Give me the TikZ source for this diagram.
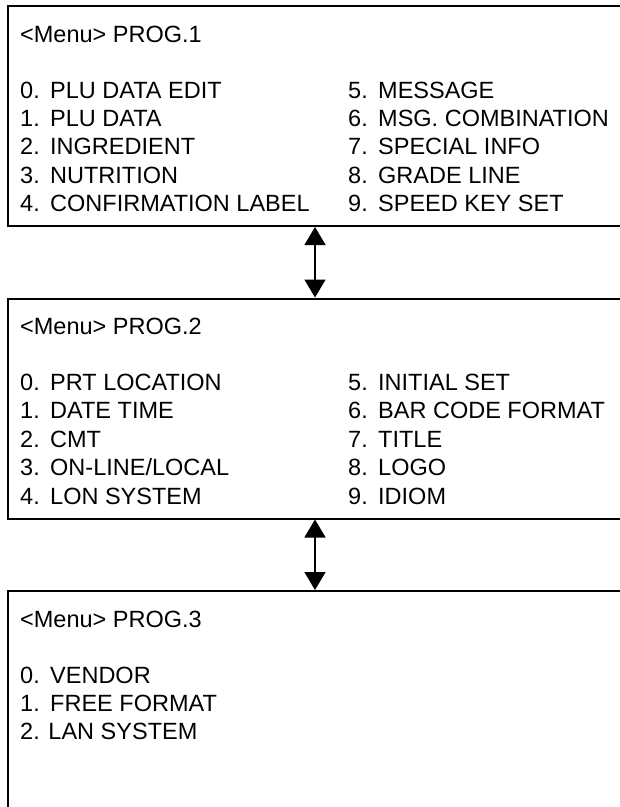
\documentclass[tikz,border=0pt]{standalone}
\usepackage{fontspec}
\setmainfont{Liberation Sans}
\usetikzlibrary{arrows.meta}
\newcommand\itm[2]{\makebox[30pt][l]{#1}#2}
\begin{document}
\begin{tikzpicture}[x=1pt,y=-1pt,
  menubox/.style={draw=black,line width=2pt,rectangle,minimum width=660pt,minimum height=220pt,anchor=north west,inner sep=0pt},
  txt/.style={anchor=base west,inner sep=0pt,font=\fontsize{23.5pt}{28pt}\selectfont},
  link/.style={line width=1.6pt,{Triangle[width=21pt,length=18pt]}-{Triangle[width=21pt,length=18pt]}}]
\useasboundingbox (0,0) rectangle (620,807);
\clip (0,0) rectangle (620,807);
\coordinate (ax) at (315,0);
% box 1
\node[menubox] (b1) at (6.5,5) {};
\node[txt] (t1) at (20,42) {<Menu> PROG.1};
\node[txt] (a10) at (20,98) {\itm{0.}{PLU DATA EDIT}};
\node[txt] (a11) at (20,126.4) {\itm{1.}{PLU DATA}};
\node[txt] (a12) at (20,154.8) {\itm{2.}{INGREDIENT}};
\node[txt] (a13) at (20,183.2) {\itm{3.}{NUTRITION}};
\node[txt] (a14) at (20,211.6) {\itm{4.}{CONFIRMATION LABEL}};
\node[txt] (a15) at (348,98) {\itm{5.}{MESSAGE}};
\node[txt] (a16) at (348,126.4) {\itm{6.}{MSG. COMBINATION}};
\node[txt] (a17) at (348,154.8) {\itm{7.}{SPECIAL INFO}};
\node[txt] (a18) at (348,183.2) {\itm{8.}{GRADE LINE}};
\node[txt] (a19) at (348,211.6) {\itm{9.}{SPEED KEY SET}};
% box 2
\begin{scope}[shift={(0,292.5)}]
\node[menubox] (b2) at (6.5,5) {};
\node[txt] (t2) at (20,42) {<Menu> PROG.2};
\node[txt] (a20) at (20,98) {\itm{0.}{PRT LOCATION}};
\node[txt] (a21) at (20,126.4) {\itm{1.}{DATE TIME}};
\node[txt] (a22) at (20,154.8) {\itm{2.}{CMT}};
\node[txt] (a23) at (20,183.2) {\itm{3.}{ON-LINE/LOCAL}};
\node[txt] (a24) at (20,211.6) {\itm{4.}{LON SYSTEM}};
\node[txt] (a25) at (348,98) {\itm{5.}{INITIAL SET}};
\node[txt] (a26) at (348,126.4) {\itm{6.}{BAR CODE FORMAT}};
\node[txt] (a27) at (348,154.8) {\itm{7.}{TITLE}};
\node[txt] (a28) at (348,183.2) {\itm{8.}{LOGO}};
\node[txt] (a29) at (348,211.6) {\itm{9.}{IDIOM}};
\end{scope}
% box 3
\begin{scope}[shift={(0,585)}]
\node[menubox,minimum height=260pt] (b3) at (6.5,5) {};
\node[txt] (t3) at (20,42) {<Menu> PROG.3};
\node[txt] (a30) at (20,98) {\itm{0.}{VENDOR}};
\node[txt] (a31) at (20,126.4) {\itm{1.}{FREE FORMAT}};
\node[txt] (a32) at (20,154.8) {2. LAN SYSTEM};
\end{scope}
% connectors
\draw[link] (b1.south -| ax) -- (b2.north -| ax);
\draw[link] (b2.south -| ax) -- (b3.north -| ax);
\end{tikzpicture}
\end{document}
